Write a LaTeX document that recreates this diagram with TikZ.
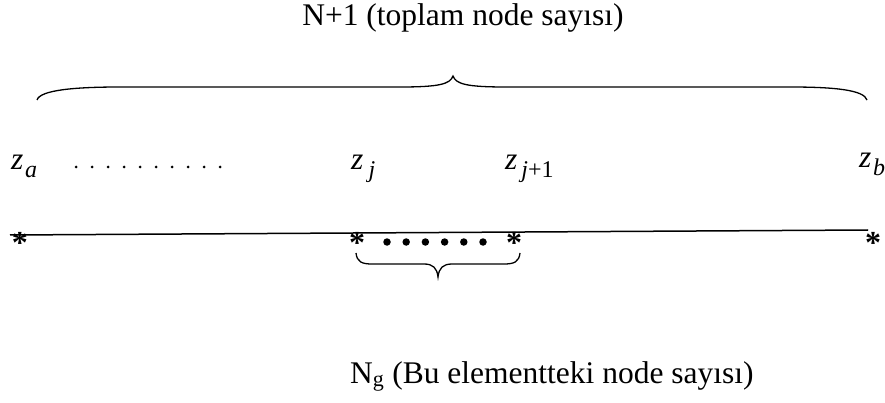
\documentclass[tikz,border=0pt]{standalone}
\usepackage{fontspec}
\setmainfont{Liberation Serif}
\begin{document}
\begin{tikzpicture}[x=1pt,y=-1pt,
  txt/.style={inner sep=0pt,font=\fontsize{31.5}{36}\selectfont},
  starnode/.style={inner sep=0pt,anchor=base,font=\fontsize{32}{36}\selectfont\bfseries},
  bigdot/.style={circle,fill=black,inner sep=0pt,minimum size=7.5pt},
  smalldot/.style={circle,fill=black,inner sep=0pt,minimum size=3pt},
  bracepath/.style={line width=1.3pt},
  mainline/.style={line width=1.5pt}]
\useasboundingbox (0,0) rectangle (885,403);
\newcommand\zlab[1]{\textit{z}\kern0.05em\raisebox{-8pt}{\fontsize{24}{28}\selectfont #1}}
% top label
\node[txt,anchor=base] (top) at (463,26) {N+1 (toplam node sayısı)};
% top brace
\draw[bracepath] (37,100) .. controls (40,90) and (75,87) .. (120,87) -- (400,87)
  .. controls (440,87) and (450,84) .. (453,76)
  .. controls (456,84) and (466,87) .. (506,87) -- (790,87)
  .. controls (835,87) and (864,90) .. (867,100);
% z labels
\node[txt,anchor=base west] (za) at (11,170) {\zlab{\textit{a}}};
\node[txt,anchor=base west] (zj) at (351,170) {\zlab{\kern0.15em\textit{j}}};
\node[txt,anchor=base west] (zj1) at (505,170) {\zlab{\kern0.1em\textit{j}+1}};
\node[txt,anchor=base west] (zb) at (859,168) {\zlab{\textit{b}}};
% small dots
\foreach \i in {0,...,9}{\node[smalldot] (sd\i) at (76+16*\i,167) {};}
% main line
\coordinate (L) at (10,235);
\coordinate (R) at (868,230);
\draw[mainline] (L) -- (R);
% stars
\node[starnode] (sa) at (20,253) {*};
\node[starnode] (sj) at (357,254) {*};
\node[starnode] (sj1) at (514,254) {*};
\node[starnode] (sb) at (873,254) {*};
% big dots
\foreach \i in {0,...,5}{\node[bigdot] (bd\i) at (387+19.2*\i,242) {};}
% bottom brace
\draw[bracepath] (356,253) .. controls (357,262) and (362,264) .. (372,264) -- (424,264)
  .. controls (433,264) and (437,268) .. (438,277)
  .. controls (439,268) and (443,264) .. (452,264) -- (504,264)
  .. controls (514,264) and (519,262) .. (520,253);
% bottom label
\node[txt,anchor=base west] (bot) at (350,383) {N\textsubscript{g} (Bu elementteki node sayısı)};
\end{tikzpicture}
\end{document}
